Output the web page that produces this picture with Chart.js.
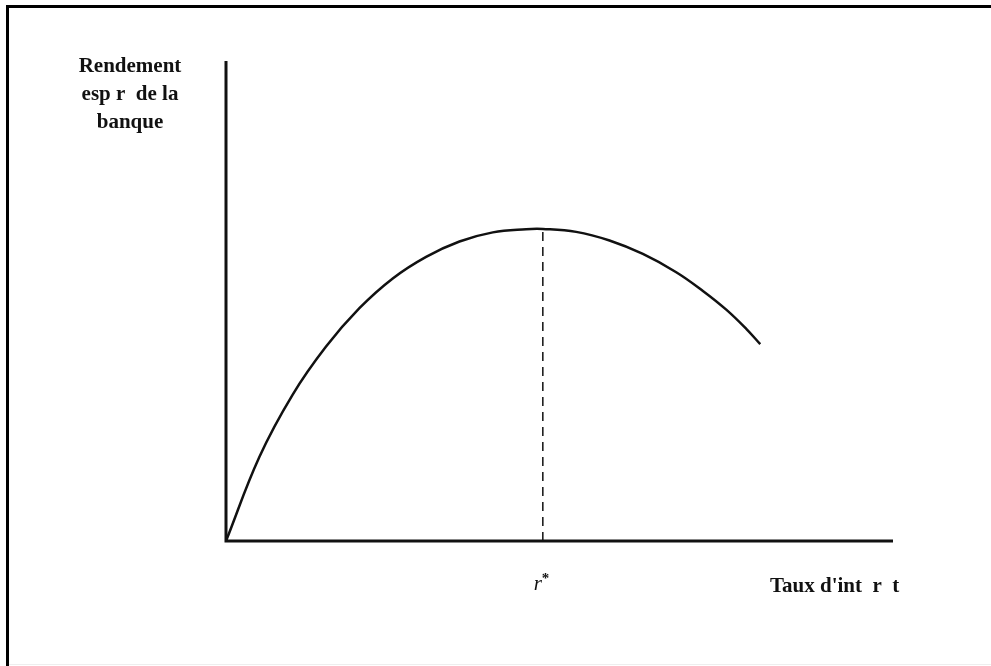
<!DOCTYPE html>
<html>
<head>
<meta charset="utf-8">
<title>Rendement espéré de la banque</title>
<script src="https://cdn.jsdelivr.net/npm/chart.js@4.4.0/dist/chart.umd.min.js"></script>
<style>
    html, body { margin: 0; padding: 0; background: #fff; }
    #chart { display: block; }
</style>
</head>
<body>
<canvas id="chart" width="991" height="666"></canvas>
<script>
// taux d'intérêt (axe x, unités arbitraires 0..10)
const rateX = [0, 0.5, 1.0, 1.5, 2.0, 2.5, 3.0, 3.5, 4.0, 4.5, 4.75, 5.25, 5.75, 6.25, 6.75, 7.15, 7.5, 7.8, 8.01];
// rendement espéré (axe y, unités arbitraires 0..10)
const returnY = [0, 1.75, 3.05, 4.05, 4.85, 5.47, 5.92, 6.24, 6.43, 6.495, 6.5, 6.44, 6.26, 5.98, 5.60, 5.21, 4.82, 4.42, 4.10];
// taux optimal r* et rendement maximal
const rStar = 4.75;
const peakReturn = 6.5;
const yTitleLines = ['Rendement', 'esp r  de la', 'banque'];
const xTitle = "Taux d'int  r  t";
const rStarLabel = 'r';

document.addEventListener("DOMContentLoaded", () => {
    const ctx = document.getElementById('chart').getContext('2d');

    const curve = rateX.map((x, i) => ({ x: x, y: returnY[i] }));
    const dropLine = [{ x: rStar, y: 0 }, { x: rStar, y: peakReturn }];

    // cadre, axes et textes
    const decor = {
        id: 'decor',
        afterDraw(chart) {
            const c = chart.ctx;
            const a = chart.chartArea;
            const xs = chart.scales.x;
            c.save();
            c.strokeStyle = '#000';
            c.lineWidth = 3;
            c.beginPath();
            c.moveTo(7.5, 666);
            c.lineTo(7.5, 6.5);
            c.lineTo(991, 6.5);
            c.stroke();

            c.strokeStyle = '#eee';
            c.lineWidth = 1;
            c.beginPath();
            c.moveTo(9, 664.5);
            c.lineTo(991, 664.5);
            c.stroke();

            c.strokeStyle = '#111';
            c.lineWidth = 3;
            c.beginPath();
            c.moveTo(a.left, a.top);
            c.lineTo(a.left, a.bottom);
            c.lineTo(a.right, a.bottom);
            c.stroke();

            c.fillStyle = '#111';
            c.font = 'bold 21px "Liberation Serif", "Times New Roman", serif';
            c.textAlign = 'center';
            c.textBaseline = 'alphabetic';
            yTitleLines.forEach((t, i) => c.fillText(t, 130, 72 + i * 28));

            c.textAlign = 'left';
            c.fillText(xTitle, 770, 592);

            const px = xs.getPixelForValue(rStar);
            c.font = 'italic 21px "Liberation Serif", "Times New Roman", serif';
            c.fillText(rStarLabel, px - 9, 590);
            c.font = 'bold 15px "Liberation Serif", "Times New Roman", serif';
            c.fillText('*', px - 1, 583);
            c.restore();
        }
    };

    new Chart(ctx, {
        type: 'scatter',
        data: {
            datasets: [{
                data: curve,
                showLine: true,
                borderColor: '#111',
                borderWidth: 2.5,
                pointRadius: 0,
                tension: 0.4,
                fill: false
            }, {
                data: dropLine,
                showLine: true,
                borderColor: '#111',
                borderWidth: 1.5,
                borderDash: [9, 6],
                pointRadius: 0,
                fill: false
            }]
        },
        options: {
            responsive: false,
            animation: false,
            events: [],
            layout: { padding: { left: 226, right: 98, top: 61, bottom: 125 } },
            plugins: { legend: { display: false }, tooltip: { enabled: false } },
            scales: {
                x: { type: 'linear', min: 0, max: 10, display: false },
                y: { type: 'linear', min: 0, max: 10, display: false }
            }
        },
        plugins: [decor]
    });
});
</script>
</body>
</html>
